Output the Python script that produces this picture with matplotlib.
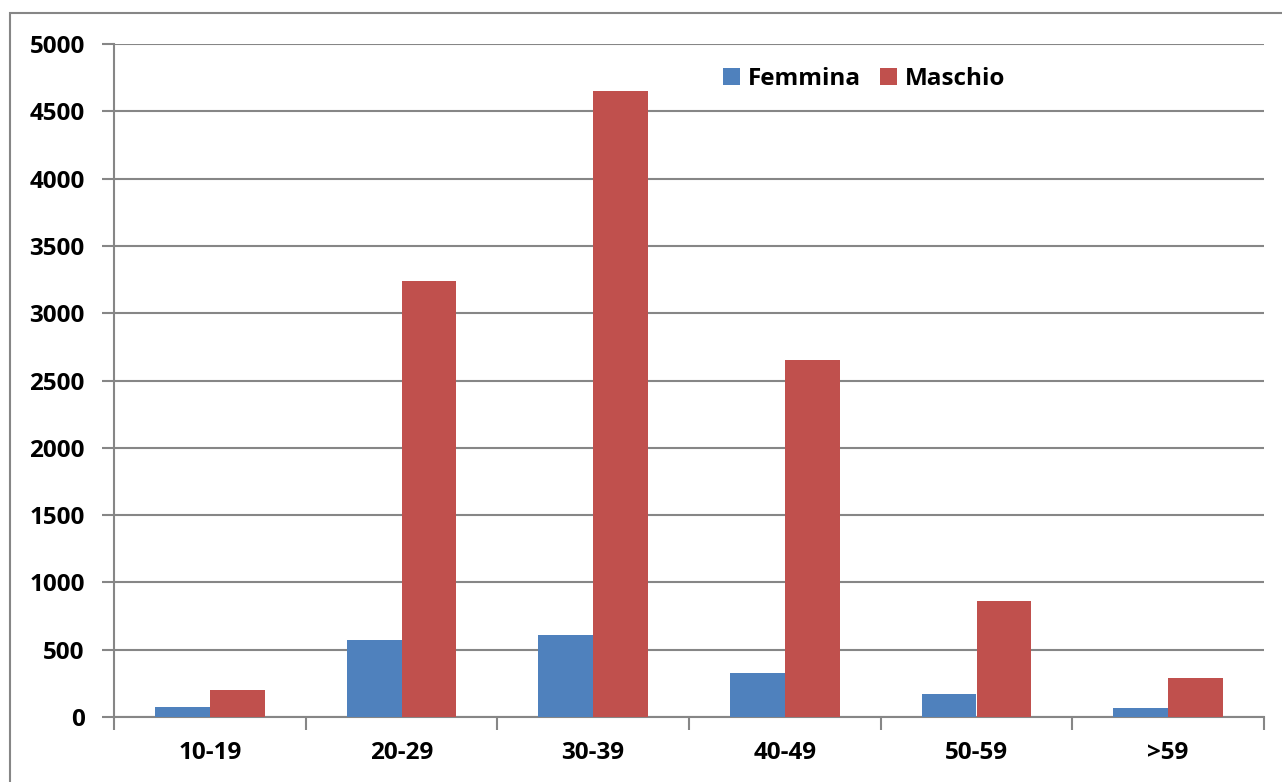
import numpy as np
import matplotlib.pyplot as plt
from matplotlib.patches import Rectangle

categories = ['10-19', '20-29', '30-39', '40-49', '50-59', '>59']
femmina = [75, 570, 610, 325, 170, 65]
maschio = [200, 3240, 4650, 2650, 860, 290]

blue = '#4F81BD'
red = '#C0504D'
grid_gray = '#868686'

plt.rcParams['font.family'] = ['Open Sans', 'DejaVu Sans']
plt.rcParams['font.weight'] = 'bold'

fig = plt.figure(figsize=(12.82, 7.82), dpi=100)
ax = fig.add_axes([114 / 1282, 1 - 717 / 782, (1264 - 114) / 1282, (717 - 44) / 782])

# outer chart frame (runs off the right and bottom edges)
fig.patches.append(Rectangle((10 / 1282, -0.1), 1.2, 1 - 13 / 782 + 0.1,
                             transform=fig.transFigure, fill=False,
                             edgecolor=grid_gray, linewidth=1.5, zorder=0))

x = np.arange(len(categories))
w = 1 / 3.5
ax.bar(x - w / 2, femmina, w, color=blue, label='Femmina', zorder=3)
ax.bar(x + w / 2, maschio, w, color=red, label='Maschio', zorder=3)

ax.set_xlim(-0.5, len(categories) - 0.5)
ax.set_ylim(0, 5000)
ax.set_yticks(np.arange(0, 5001, 500))
ax.yaxis.grid(True, color=grid_gray, linewidth=1.5, zorder=0)
ax.set_axisbelow(True)

ax.set_xticks(x)
ax.set_xticklabels(categories)
ax.set_xticks(np.arange(-0.5, len(categories)), minor=True)
ax.tick_params(axis='x', which='major', length=0, pad=17, labelsize=17.5)
ax.tick_params(axis='x', which='minor', length=9, width=1.5, color=grid_gray)
ax.tick_params(axis='y', length=9, width=1.5, color=grid_gray, pad=12, labelsize=17.5)
for lbl in ax.get_xticklabels() + ax.get_yticklabels():
    lbl.set_fontweight('bold')

for side in ['top', 'right']:
    ax.spines[side].set_visible(False)
for side in ['left', 'bottom']:
    ax.spines[side].set_color(grid_gray)
    ax.spines[side].set_linewidth(1.5)

leg = ax.legend(ncol=2, loc='center', bbox_to_anchor=((864 - 114) / 1150, (717 - 79) / 673),
                frameon=False, prop={'size': 17.5, 'weight': 'bold'},
                handlelength=0.7, handleheight=0.7,
                handletextpad=0.3, columnspacing=0.8)

fig.savefig('out.png', dpi=100)
